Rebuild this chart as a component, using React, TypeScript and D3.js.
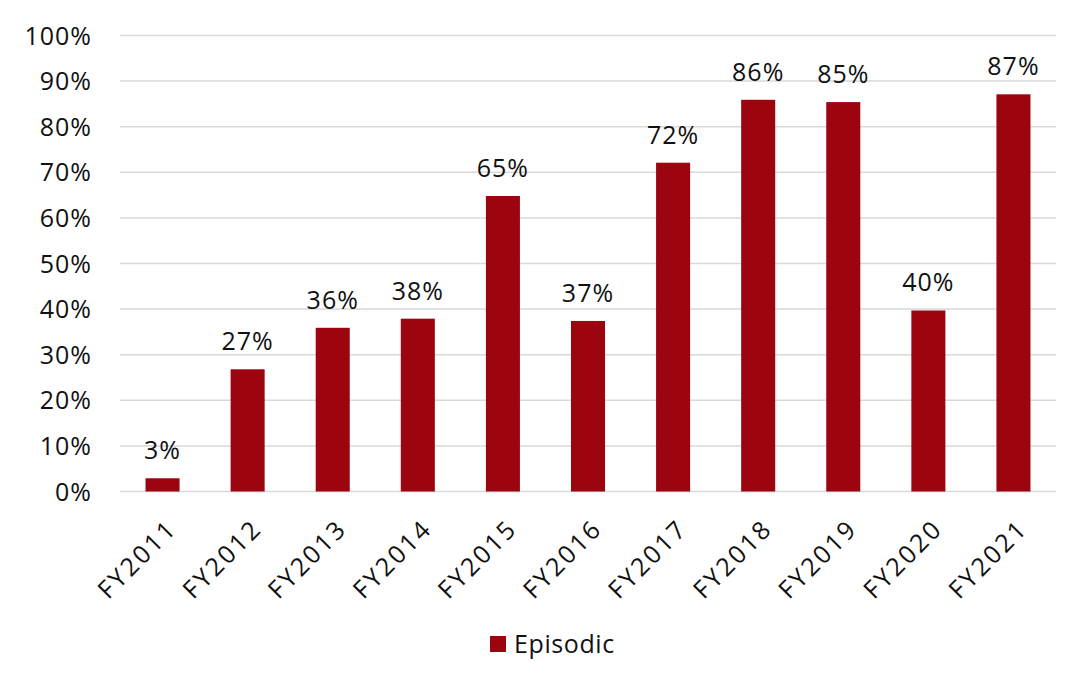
import React from "react";
import * as d3 from "d3";

const categories = ["FY2011", "FY2012", "FY2013", "FY2014", "FY2015", "FY2016", "FY2017", "FY2018", "FY2019", "FY2020", "FY2021"];
const episodic = [2.9, 26.8, 35.9, 37.9, 64.8, 37.4, 72.1, 85.9, 85.4, 39.7, 87.1];
const yTicks = [0, 10, 20, 30, 40, 50, 60, 70, 80, 90, 100];
const seriesName = "Episodic";

const W = 1081;
const H = 686;
const plot = { left: 120, right: 1056, top: 35.5, bottom: 491.5 };
const BAR = "#9c0410";
const FONT = "'Open Sans', sans-serif";

export default function App() {
  const x = d3
    .scaleBand<string>()
    .domain(categories)
    .range([plot.left, plot.right])
    .paddingInner(0.6)
    .paddingOuter(0.3);
  const y = d3.scaleLinear().domain([0, 100]).range([plot.bottom, plot.top]);

  return (
    <svg width={W} height={H} style={{ position: "absolute", left: 0, top: 0, background: "#fff" }} fontFamily={FONT}>
      {yTicks.map((t) => (
        <g key={t}>
          <line x1={plot.left} x2={plot.right} y1={y(t)} y2={y(t)} stroke="#d9d9d9" strokeWidth={1.5} />
          <text x={92} y={y(t)} dy="0.36em" textAnchor="end" fontSize={25} letterSpacing={1} fill="#111">
            {t}%
          </text>
        </g>
      ))}
      {categories.map((c, i) => {
        const cx = (x(c) as number) + x.bandwidth() / 2;
        const v = episodic[i];
        return (
          <g key={c}>
            <rect x={x(c)} y={y(v)} width={x.bandwidth()} height={y(0) - y(v)} fill={BAR} />
            <text x={cx} y={y(v) - 19} textAnchor="middle" fontSize={25} letterSpacing={1} fill="#111">
              {Math.round(v)}%
            </text>
            <text
              transform={`translate(${cx + 3},${plot.bottom + 26}) rotate(-45)`}
              textAnchor="end"
              dy="0.72em"
              fontSize={25}
              letterSpacing={2.5}
              fill="#111"
            >
              {c}
            </text>
          </g>
        );
      })}
      <rect x={490} y={636} width={16} height={16} fill={BAR} />
      <text x={514} y={653} fontSize={25} letterSpacing={0.6} fill="#111">
        {seriesName}
      </text>
    </svg>
  );
}
